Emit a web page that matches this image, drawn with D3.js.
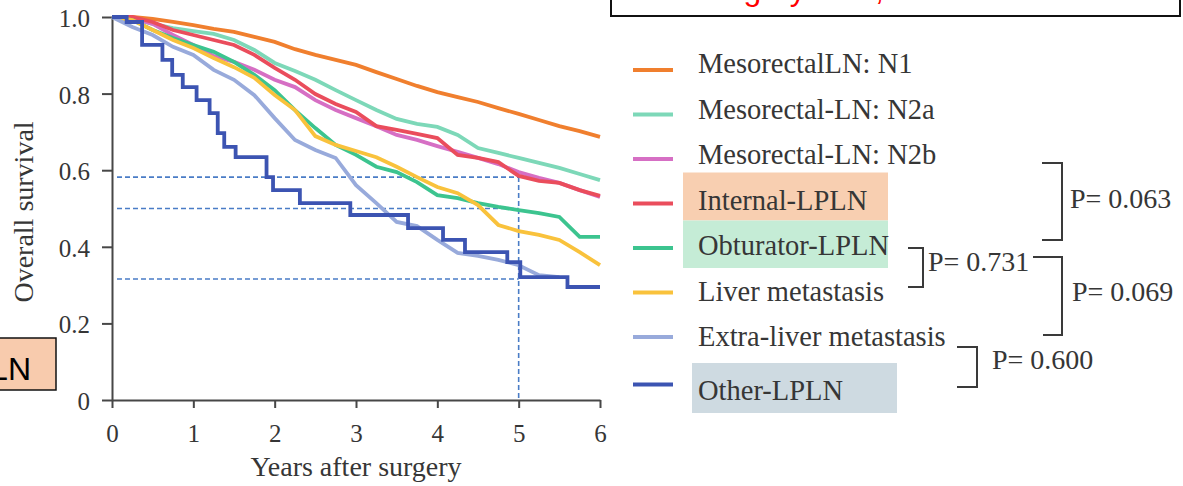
<!DOCTYPE html>
<html>
<head>
<meta charset="utf-8">
<script src="https://cdn.jsdelivr.net/npm/d3@7"></script>
<style>
  html, body { margin: 0; padding: 0; background: #fff; overflow: hidden; }
  svg { display: block; }
</style>
</head>
<body>
<svg id="chart" width="1183" height="486"></svg>
<script>
// ---- data ---------------------------------------------------------------
// Follow-up grid (years after surgery) shared by the dense survival curves
const years = [0, 0.25, 0.5, 0.75, 1, 1.25, 1.5, 1.75, 2, 2.25, 2.5, 2.75, 3,
               3.25, 3.5, 3.75, 4, 4.25, 4.5, 4.75, 5, 5.25, 5.5, 5.75, 6];

const groupNames = [
  "MesorectalLN: N1",
  "Mesorectal-LN: N2a",
  "Mesorectal-LN: N2b",
  "Internal-LPLN",
  "Obturator-LPLN",
  "Liver metastasis",
  "Extra-liver metastasis",
  "Other-LPLN"
];

const n1Surv = [1.000,1.000,0.995,0.987,0.979,0.969,0.961,0.948,0.935,0.916,0.901,0.888,0.875,
                0.856,0.838,0.820,0.804,0.791,0.778,0.762,0.747,0.731,0.715,0.702,0.687];
const n2aSurv = [1.000,0.997,0.982,0.971,0.963,0.956,0.940,0.914,0.880,0.859,0.836,0.809,0.783,
                 0.757,0.734,0.721,0.713,0.692,0.658,0.645,0.632,0.619,0.606,0.590,0.574];
const n2bSurv = [1.000,0.997,0.982,0.953,0.927,0.898,0.883,0.862,0.836,0.817,0.783,0.757,0.736,
                 0.715,0.692,0.679,0.663,0.648,0.632,0.616,0.595,0.580,0.567,0.548,0.530];
const internalSurv = [1.000,1.000,0.987,0.966,0.953,0.940,0.927,0.901,0.867,0.836,0.799,0.773,0.752,
                      0.715,0.705,0.695,0.684,0.640,0.632,0.621,0.585,0.572,0.567,0.548,0.533];
const obturatorSurv = [1.000,0.992,0.966,0.945,0.927,0.909,0.883,0.849,0.809,0.757,0.710,0.666,0.640,
                       0.609,0.595,0.569,0.535,0.527,0.514,0.504,0.496,0.488,0.478,0.426,0.426];
const liverSurv = [1.000,0.992,0.966,0.940,0.919,0.893,0.869,0.841,0.796,0.757,0.689,0.666,0.650,
                   0.634,0.609,0.582,0.556,0.540,0.509,0.457,0.441,0.431,0.418,0.386,0.352];
// extra-liver follow-up stops at 5.5 years
const extraLiverSurv = [1.000,0.974,0.953,0.922,0.901,0.862,0.836,0.796,0.736,0.679,0.653,0.632,0.561,
                        0.514,0.465,0.454,0.418,0.384,0.376,0.366,0.352,0.326,0.321];
// Other-LPLN: event times and the survival after each step
const otherTimes = [0, 0.18, 0.37, 0.62, 0.74, 0.87, 1.04, 1.20, 1.30, 1.38, 1.52, 1.90, 1.98,
                    2.31, 2.93, 3.64, 4.07, 4.34, 4.86, 5.02, 5.60, 6.00];
const otherSurv = [1.000, 0.987, 0.927, 0.888, 0.849, 0.817, 0.783, 0.749, 0.697, 0.661, 0.634, 0.582, 0.548,
                   0.514, 0.483, 0.449, 0.418, 0.386, 0.360, 0.321, 0.295, 0.295];

const groupColors = ["#f07f2e", "#7dd8b8", "#d66fc4", "#ea4d5c", "#3cc48f", "#f9c23c", "#98aadb", "#3c54b2"];

// 5-year survival reference levels
const refLevels = [0.582, 0.500, 0.316];
const refYear = 5;

const xTicks = [0, 1, 2, 3, 4, 5, 6];
const xTickLabels = ["0", "1", "2", "3", "4", "5", "6"];
const yTicks = [0, 0.2, 0.4, 0.6, 0.8, 1.0];
const yTickLabels = ["0", "0.2", "0.4", "0.6", "0.8", "1.0"];

// pairwise log-rank p-values between highlighted groups
const pValueLabels = ["P= 0.063", "P= 0.731", "P= 0.069", "P= 0.600"];

// ---- layout ---------------------------------------------------------------
const svg = d3.select("#chart");
const serif = "'Liberation Serif','Times New Roman',serif";
const sans = "'Liberation Sans',Arial,sans-serif";
const inkAxis = "#474747";
const inkText = "#363636";

const x = d3.scaleLinear().domain([0, 6]).range([112, 600]);
const y = d3.scaleLinear().domain([0, 1]).range([400, 17]);

// curves
const denseSeries = [n1Surv, n2aSurv, n2bSurv, internalSurv, obturatorSurv, liverSurv, extraLiverSurv];
const groups = groupNames.map((name, i) => {
  let pts;
  if (i < denseSeries.length) {
    pts = denseSeries[i].map((s, k) => [years[k], s]);
  } else {
    pts = otherTimes.map((t, k) => [t, otherSurv[k]]);
  }
  return { name, color: groupColors[i], pts, step: i === 7 };
});

// reference dashed lines (drawn under the curves)
const ref = svg.append("g")
  .attr("stroke", "#4a7cc6").attr("stroke-width", 1.6)
  .attr("stroke-dasharray", "5,3").attr("fill", "none");
ref.selectAll("line.h").data(refLevels).join("line")
  .attr("class", "h")
  .attr("x1", x(0) + 5).attr("x2", x(refYear))
  .attr("y1", d => y(d)).attr("y2", d => y(d));
ref.append("line")
  .attr("x1", x(refYear)).attr("x2", x(refYear))
  .attr("y1", y(d3.max(refLevels))).attr("y2", y(0));

// axes
const yAxis = svg.append("g")
  .attr("transform", `translate(${x(0)},0)`)
  .call(d3.axisLeft(y).tickValues(yTicks).tickFormat((d, i) => yTickLabels[i])
        .tickSize(10).tickSizeOuter(0).tickPadding(12));
const xAxis = svg.append("g")
  .attr("transform", `translate(0,${y(0)})`)
  .call(d3.axisBottom(x).tickValues(xTicks).tickFormat((d, i) => xTickLabels[i])
        .tickSize(8).tickSizeOuter(0).tickPadding(16));
[yAxis, xAxis].forEach(a => {
  a.select(".domain").attr("stroke", inkAxis).attr("stroke-width", 2);
  a.selectAll(".tick line").attr("stroke", inkAxis).attr("stroke-width", 2);
  a.selectAll(".tick text").attr("fill", inkText)
    .style("font-family", serif).style("font-size", "25px");
});
yAxis.selectAll(".tick text").attr("dy", "0.38em");

// curves
const plot = svg.append("g").attr("fill", "none")
  .attr("stroke-linejoin", "miter").attr("stroke-linecap", "butt");
groups.forEach(g => {
  const line = d3.line().x(d => x(d[0])).y(d => y(d[1]))
    .curve(g.step ? d3.curveStepAfter : d3.curveLinear);
  plot.append("path")
    .datum(g.pts)
    .attr("d", line)
    .attr("stroke", g.color)
    .attr("stroke-width", 3.8);
});

// axis titles
svg.append("text")
  .attr("transform", `translate(33,${212}) rotate(-90)`)
  .attr("text-anchor", "middle")
  .attr("fill", inkText)
  .style("font-family", serif).style("font-size", "28px")
  .text("Overall survival");
svg.append("text")
  .attr("x", x(3)).attr("y", 476)
  .attr("text-anchor", "middle")
  .attr("fill", inkText)
  .style("font-family", serif).style("font-size", "28px")
  .text("Years after surgery");

// legend
const rowBase = i => 73 + 45.5 * i + (i === 7 ? 8 : 0);
const keyY = i => 70 + 44.5 * i + (i === 7 ? 3 : 0);
const highlight = {
  3: { fill: "#f8cfb1", x0: 683, x1: 888, top: -37, bottom: 11 },
  4: { fill: "#c5ecd6", x0: 683, x1: 888, top: -34.5, bottom: 13 },
  7: { fill: "#cedae1", x0: 692, x1: 897, top: -36.5, bottom: 13.5 }
};
const legend = svg.append("g");
Object.keys(highlight).forEach(k => {
  const h = highlight[k], b = rowBase(+k);
  legend.append("rect")
    .attr("x", h.x0).attr("y", b + h.top)
    .attr("width", h.x1 - h.x0).attr("height", h.bottom - h.top)
    .attr("fill", h.fill);
});
groups.forEach((g, i) => {
  const b = rowBase(i);
  legend.append("line")
    .attr("x1", 633).attr("x2", 673)
    .attr("y1", keyY(i)).attr("y2", keyY(i))
    .attr("stroke", g.color).attr("stroke-width", 4);
  legend.append("text")
    .attr("x", 698).attr("y", b)
    .attr("fill", inkText)
    .style("font-family", serif).style("font-size", "28.5px")
    .text(g.name);
});

// comparison brackets with p-values
const brackets = [
  { x0: 1042, x1: 1062, y0: 163, y1: 240, tx: 1070, ty: 208 },
  { x0: 908,  x1: 923,  y0: 248, y1: 287, tx: 928,  ty: 271 },
  { x0: 1033, x1: 1062, y0: 257, y1: 335, tx: 1072, ty: 301, x0b: 1043 },
  { x0: 957,  x1: 977,  y0: 347, y1: 387, tx: 992,  ty: 369 }
];
const br = svg.append("g");
brackets.forEach((b, i) => {
  const xb = b.x0b !== undefined ? b.x0b : b.x0;
  br.append("path")
    .attr("d", `M${b.x0},${b.y0}H${b.x1}V${b.y1}H${xb}`)
    .attr("fill", "none").attr("stroke", "#3a3a3a").attr("stroke-width", 2);
  br.append("text")
    .attr("x", b.tx).attr("y", b.ty)
    .attr("fill", inkText)
    .style("font-family", serif).style("font-size", "28px")
    .text(pValueLabels[i]);
});

// note box along the top edge (its text runs above the page)
const note = svg.append("g");
note.append("rect")
  .attr("x", 611).attr("y", -10).attr("width", 569).attr("height", 26)
  .attr("fill", "#fff").attr("stroke", "#111").attr("stroke-width", 2);
note.append("text")
  .attr("x", 626).attr("y", 0)
  .attr("fill", "#ff0000")
  .style("font-family", sans).style("font-size", "32px")
  .text("after surgery time,");

// side tag at the left edge
const tag = svg.append("g");
tag.append("rect")
  .attr("x", -5).attr("y", 338).attr("width", 61).attr("height", 52)
  .attr("fill", "#f8cbad").attr("stroke", "#111").attr("stroke-width", 1.5);
tag.append("text")
  .attr("x", 31).attr("y", 380)
  .attr("text-anchor", "end")
  .attr("fill", "#000")
  .style("font-family", sans).style("font-size", "32px")
  .text("LN");
</script>
</body>
</html>
